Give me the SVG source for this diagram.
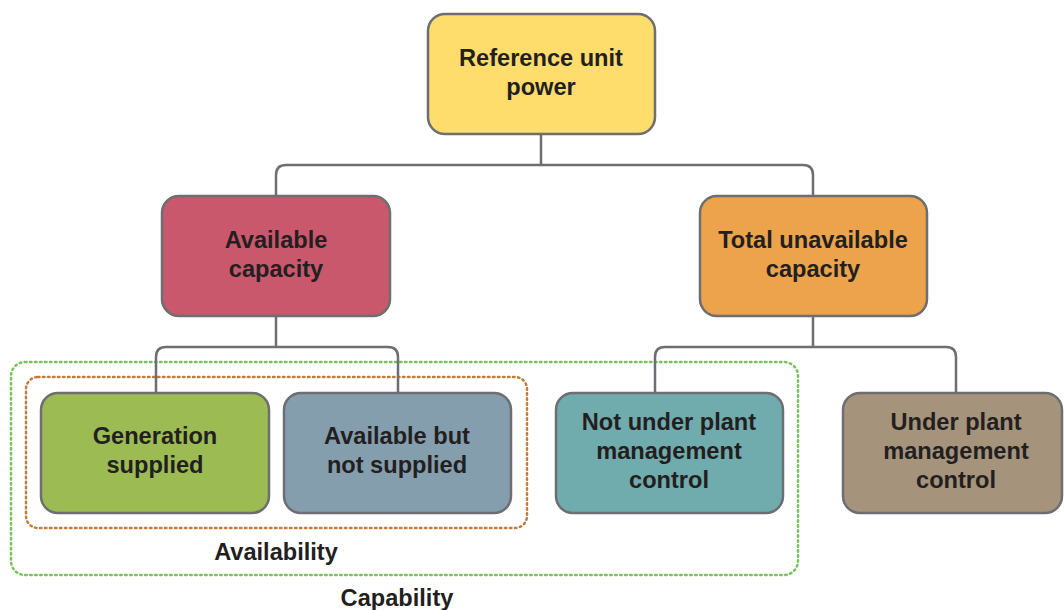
<svg xmlns="http://www.w3.org/2000/svg" width="1064" height="610" viewBox="0 0 1064 610">
<style>
.box{stroke:#6d6e71;stroke-width:2.5}
.t{font-family:"Liberation Sans",Arial,sans-serif;font-weight:bold;font-size:23.6px;fill:#231f20;text-anchor:middle}
.c{fill:none;stroke:#6d6e71;stroke-width:2.5}
</style>
<rect width="1064" height="610" fill="#ffffff"/>
<g id="groups">
<rect x="11" y="362" width="787" height="213" rx="14" fill="none" stroke="#77c25a" stroke-width="2.5" stroke-dasharray="1.5 3.5" stroke-linecap="round"/>
<rect x="26" y="377" width="501" height="151" rx="12" fill="none" stroke="#c27c3a" stroke-width="2.5" stroke-dasharray="1.5 3.5" stroke-linecap="round"/>
<text class="t" x="276" y="560">Availability</text>
<text class="t" x="397" y="606">Capability</text>
</g>
<g id="connectors">
<path class="c" d="M541 134 V165 M276 196 V175 Q276 165 286 165 H803 Q813 165 813 175 V196"/>
<path class="c" d="M276 316 V347 M156 393 V357 Q156 347 166 347 H388 Q398 347 398 357 V393"/>
<path class="c" d="M813 316 V347 M655 393 V357 Q655 347 665 347 H946 Q956 347 956 357 V393"/>
</g>
<g id="n-ref">
<rect class="box" x="428" y="14" width="227" height="120" rx="17" fill="#fedd6c"/>
<text class="t" x="541" y="66">Reference unit</text>
<text class="t" x="541" y="95">power</text>
</g>
<g id="n-avail">
<rect class="box" x="162" y="196" width="228" height="120" rx="17" fill="#c9586c"/>
<text class="t" x="276" y="248">Available</text>
<text class="t" x="276" y="277">capacity</text>
</g>
<g id="n-unavail">
<rect class="box" x="700" y="196" width="227" height="120" rx="17" fill="#eca34b"/>
<text class="t" x="813" y="248">Total unavailable</text>
<text class="t" x="813" y="277">capacity</text>
</g>
<g id="n-gen">
<rect class="box" x="41" y="393" width="228" height="120" rx="17" fill="#9cbb53"/>
<text class="t" x="155" y="444">Generation</text>
<text class="t" x="155" y="473">supplied</text>
</g>
<g id="n-abns">
<rect class="box" x="284" y="393" width="227" height="120" rx="17" fill="#859ead"/>
<text class="t" x="397" y="444">Available but</text>
<text class="t" x="397" y="473">not supplied</text>
</g>
<g id="n-notunder">
<rect class="box" x="556" y="393" width="227" height="120" rx="17" fill="#70abad"/>
<text class="t" x="669" y="430">Not under plant</text>
<text class="t" x="669" y="459">management</text>
<text class="t" x="669" y="488">control</text>
</g>
<g id="n-under">
<rect class="box" x="843" y="393" width="219" height="120" rx="17" fill="#a5937b"/>
<text class="t" x="956" y="430">Under plant</text>
<text class="t" x="956" y="459">management</text>
<text class="t" x="956" y="488">control</text>
</g>
</svg>
